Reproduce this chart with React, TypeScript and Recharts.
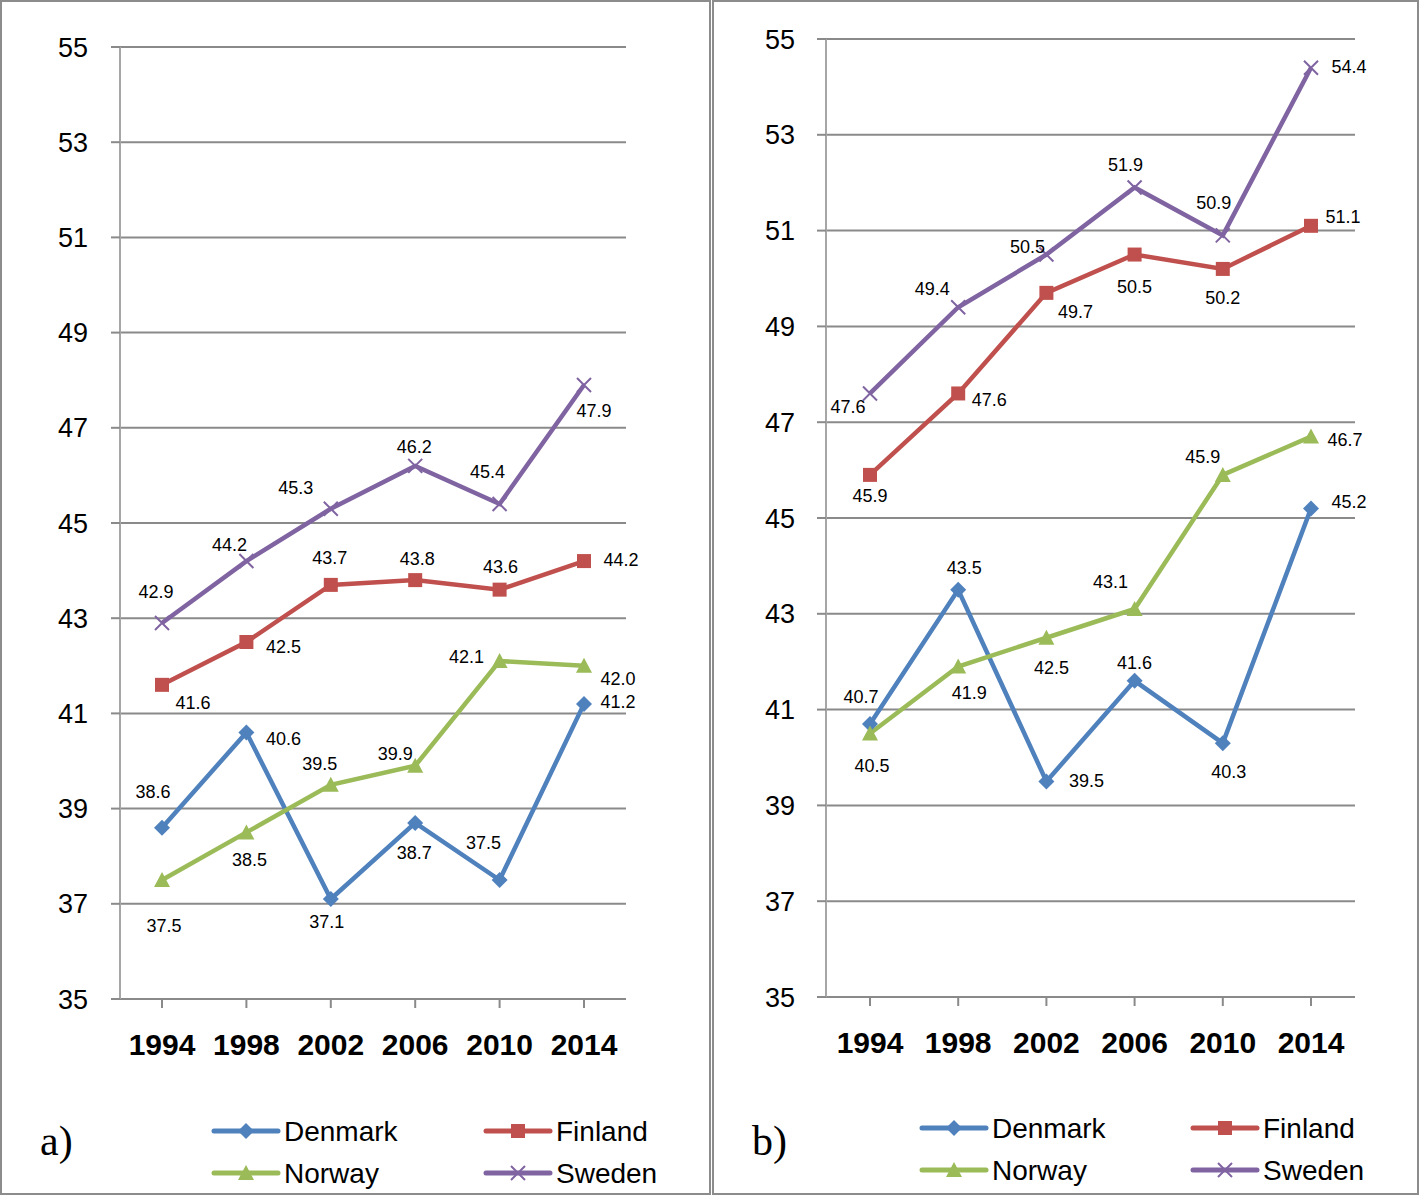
import React from "react";
import { LineChart, Line, XAxis, YAxis, CartesianGrid, LabelList } from "recharts";

const years = ["1994", "1998", "2002", "2006", "2010", "2014"];
const yTicks = [35, 37, 39, 41, 43, 45, 47, 49, 51, 53, 55];

// panel a)
const denmarkA = [38.6, 40.6, 37.1, 38.7, 37.5, 41.2];
const finlandA = [41.6, 42.5, 43.7, 43.8, 43.6, 44.2];
const norwayA = [37.5, 38.5, 39.5, 39.9, 42.1, 42.0];
const swedenA = [42.9, 44.2, 45.3, 46.2, 45.4, 47.9];

// panel b)
const denmarkB = [40.7, 43.5, 39.5, 41.6, 40.3, 45.2];
const finlandB = [45.9, 47.6, 49.7, 50.5, 50.2, 51.1];
const norwayB = [40.5, 41.9, 42.5, 43.1, 45.9, 46.7];
const swedenB = [47.6, 49.4, 50.5, 51.9, 50.9, 54.4];

// where each data label sits relative to its point (dx, dy)
const labelPosA: Record<string, number[][]> = {
  Denmark: [[-9, -36], [37, 7], [-4, 23], [-1, 30], [-16, -37], [34, -2]],
  Finland: [[31, 18], [37, 5], [-1, -27], [2, -21], [1, -23], [37, -1]],
  Norway: [[2, 46], [3, 28], [-11, -21], [-20, -12], [-33, -4], [34, 13]],
  Sweden: [[-6, -31], [-17, -16], [-35, -21], [-1, -19], [-12, -32], [10, 26]],
};
const labelPosB: Record<string, number[][]> = {
  Denmark: [[-9, -27], [6, -22], [40, 0], [0, -18], [6, 29], [38, -6]],
  Finland: [[0, 21], [31, 7], [29, 19], [0, 32], [0, 29], [32, -9]],
  Norway: [[2, 32], [11, 27], [5, 30], [-24, -27], [-20, -18], [34, 3]],
  Sweden: [[-22, 14], [-26, -18], [-19, -8], [-9, -22], [-9, -32], [38, -1]],
};

const FONT = "'Liberation Sans', Arial, sans-serif";

const series = [
  { key: "Denmark", color: "#4F81BD", shape: "diamond" },
  { key: "Finland", color: "#C0504D", shape: "square" },
  { key: "Norway", color: "#9BBB59", shape: "triangle" },
  { key: "Sweden", color: "#8064A2", shape: "x" },
];

const buildData = (dk: number[], fi: number[], no: number[], se: number[]) =>
  years.map((year, i) => ({
    year,
    Denmark: dk[i],
    Finland: fi[i],
    Norway: no[i],
    Sweden: se[i],
  }));

const dataA = buildData(denmarkA, finlandA, norwayA, swedenA);
const dataB = buildData(denmarkB, finlandB, norwayB, swedenB);

const marker = (shape: string, color: string, cx: number, cy: number, key?: any) => {
  if (shape === "diamond") {
    return (
      <path key={key} d={`M${cx},${cy - 8}L${cx + 8},${cy}L${cx},${cy + 8}L${cx - 8},${cy}Z`} fill={color} />
    );
  }
  if (shape === "square") {
    return <rect key={key} x={cx - 7} y={cy - 7} width={14} height={14} fill={color} />;
  }
  if (shape === "triangle") {
    return (
      <path key={key} d={`M${cx},${cy - 8}L${cx + 8},${cy + 7}L${cx - 8},${cy + 7}Z`} fill={color} />
    );
  }
  return (
    <path
      key={key}
      d={`M${cx - 7},${cy - 7}L${cx + 7},${cy + 7}M${cx + 7},${cy - 7}L${cx - 7},${cy + 7}`}
      stroke={color}
      strokeWidth={2}
      fill="none"
    />
  );
};

const makeDot = (shape: string, color: string) => (props: any) => {
  const { cx, cy, index } = props;
  if (cx == null || cy == null) return <g key={`d-${index}`} />;
  return marker(shape, color, cx, cy, `d-${index}`);
};

const makeLabel = (pos: number[][]) => (props: any) => {
  const { index, value } = props;
  const x = props.x ?? props.viewBox?.x;
  const y = props.y ?? props.viewBox?.y;
  const [dx, dy] = pos[index] || [0, -20];
  return (
    <text
      x={x + dx}
      y={y + dy}
      textAnchor="middle"
      dominantBaseline="central"
      fontSize={18}
      fontFamily={FONT}
      fill="#000"
    >
      {Number(value).toFixed(1)}
    </text>
  );
};

type PanelProps = {
  left: number;
  width: number;
  data: any[];
  labelPos: Record<string, number[][]>;
  top: number;
  right: number;
  yAxisWidth: number;
  xAxisHeight: number;
  pad: number;
  tickMargin: number;
  letter: string;
  legendCols: number[];
  legendRows: number[];
};

const Panel = (p: PanelProps) => {
  const chartHeight = 1080;
  return (
    <div style={{ position: "absolute", left: p.left, top: 0, width: p.width, height: 1195 }}>
      <LineChart
        width={p.width}
        height={chartHeight}
        data={p.data}
        margin={{ top: p.top, right: p.right, left: 0, bottom: 0 }}
      >
        <CartesianGrid vertical={false} stroke="#8a8a8a" strokeWidth={2} />
        <XAxis
          dataKey="year"
          height={p.xAxisHeight}
          padding={{ left: p.pad, right: p.pad }}
          axisLine={{ stroke: "#8a8a8a", strokeWidth: 2 }}
          tickLine={{ stroke: "#8a8a8a", strokeWidth: 2 }}
          tickSize={9}
          tickMargin={26}
          tick={{ fontSize: 30, fontWeight: "bold", fill: "#000", fontFamily: FONT }}
        />
        <YAxis
          domain={[35, 55]}
          ticks={yTicks}
          width={p.yAxisWidth}
          axisLine={{ stroke: "#a6a6a6", strokeWidth: 2 }}
          tickLine={{ stroke: "#8a8a8a", strokeWidth: 2 }}
          tickSize={9}
          tickMargin={p.tickMargin}
          tick={{ fontSize: 27, fill: "#000", fontFamily: FONT }}
          interval={0}
        />
        {series.map((s) => (
          <Line
            key={s.key}
            type="linear"
            dataKey={s.key}
            stroke={s.color}
            strokeWidth={4.5}
            dot={makeDot(s.shape, s.color)}
            activeDot={false}
            isAnimationActive={false}
          >
            <LabelList dataKey={s.key} content={makeLabel(p.labelPos[s.key])} />
          </Line>
        ))}
      </LineChart>
      <svg
        width={p.width}
        height={1195 - chartHeight}
        style={{ position: "absolute", left: 0, top: chartHeight }}
      >
        <text x={p.left === 0 ? 40 : 40} y={1155 - chartHeight} fontSize={42} fontFamily="'Liberation Serif', serif" fill="#000">
          {p.letter}
        </text>
        {series.map((s, i) => {
          const x0 = p.legendCols[i % 2];
          const y = p.legendRows[Math.floor(i / 2)] - chartHeight;
          return (
            <g key={s.key}>
              <line x1={x0} y1={y} x2={x0 + 64} y2={y} stroke={s.color} strokeWidth={5} strokeLinecap="round" />
              {marker(s.shape, s.color, x0 + 32, y)}
              <text x={x0 + 70} y={y} dominantBaseline="central" fontSize={28} fontFamily={FONT} fill="#000">
                {s.key}
              </text>
            </g>
          );
        })}
      </svg>
    </div>
  );
};

export default function App() {
  return (
    <div
      style={{
        position: "absolute",
        left: 0,
        top: 0,
        width: 1419,
        height: 1195,
        background: "#fff",
        overflow: "hidden",
      }}
    >
      <Panel
        left={0}
        width={710}
        data={dataA}
        labelPos={labelPosA}
        top={47}
        right={84}
        yAxisWidth={120}
        xAxisHeight={81}
        pad={42}
        tickMargin={23}
        letter="a)"
        legendCols={[214, 486]}
        legendRows={[1131, 1173]}
      />
      <Panel
        left={712}
        width={707}
        data={dataB}
        labelPos={labelPosB}
        top={39}
        right={64}
        yAxisWidth={114}
        xAxisHeight={83}
        pad={44}
        tickMargin={22}
        letter="b)"
        legendCols={[922 - 712, 1193 - 712]}
        legendRows={[1128, 1170]}
      />
      <div style={{ position: "absolute", left: 0, top: 0, width: 711, height: 1195, border: "2px solid #8c8c8c", boxSizing: "border-box" }} />
      <div style={{ position: "absolute", left: 712, top: 0, width: 707, height: 1195, border: "2px solid #8c8c8c", boxSizing: "border-box" }} />
    </div>
  );
}
